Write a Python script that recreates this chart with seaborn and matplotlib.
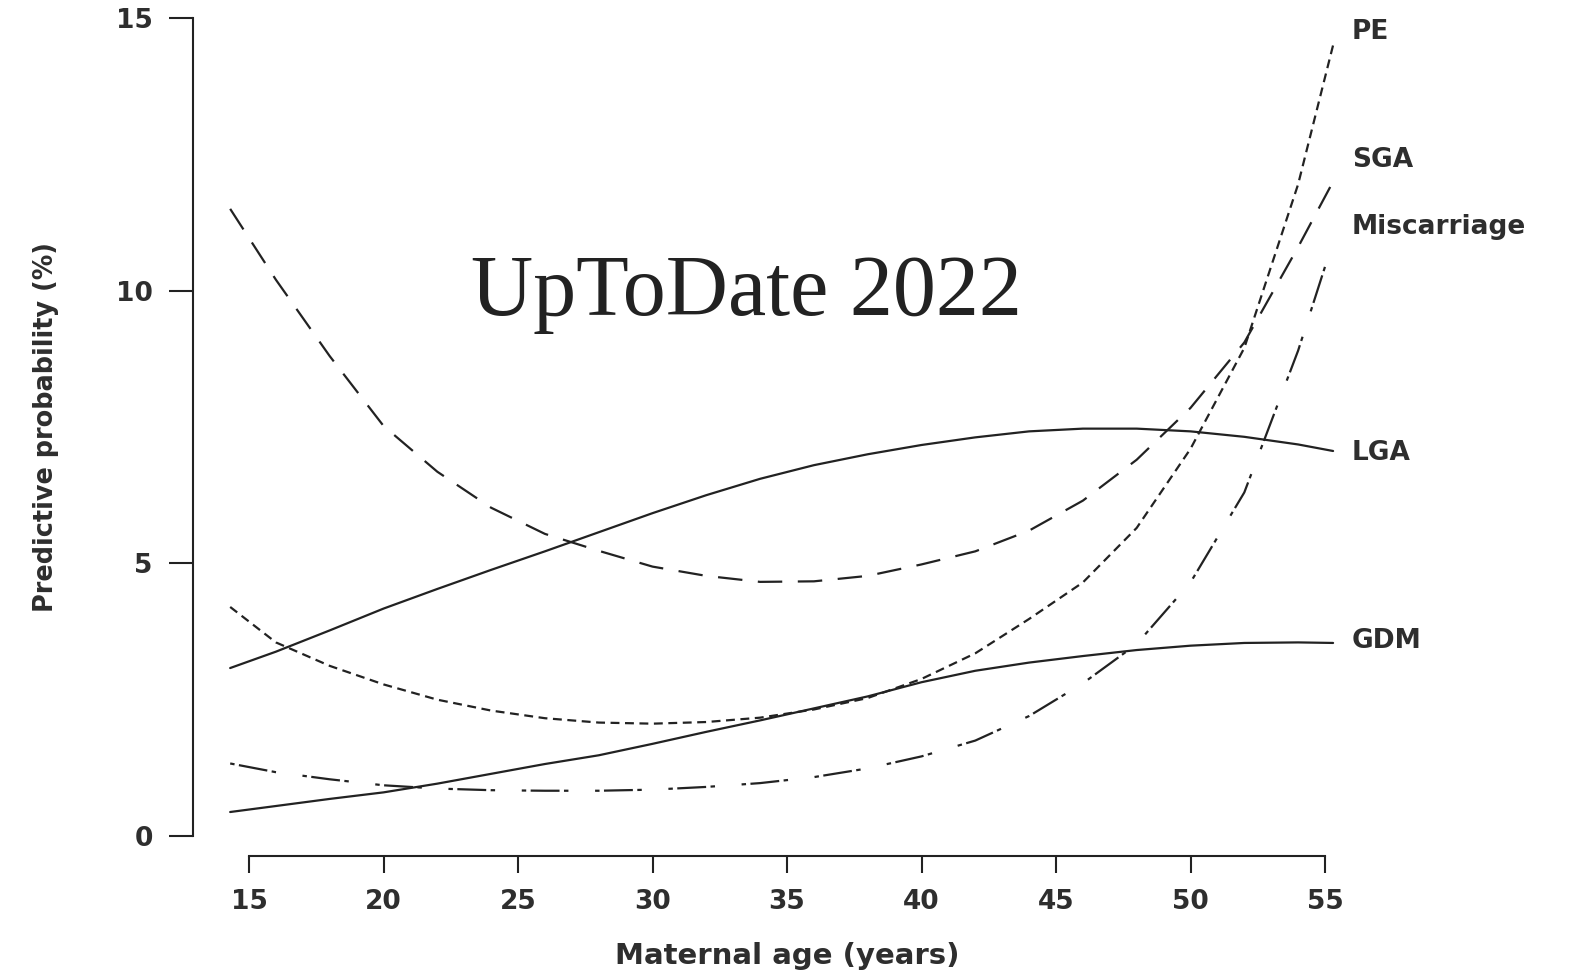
import pandas as pd
import matplotlib.pyplot as plt
import seaborn as sns

# Predicted probability (%) by maternal age
ages = [14.3, 16, 18, 20, 22, 24, 26, 28, 30, 32, 34, 36, 38, 40, 42, 44, 46, 48, 50, 52, 54, 55.3]

pe = [4.20, 3.55, 3.12, 2.78, 2.50, 2.30, 2.16, 2.08, 2.06, 2.09, 2.17, 2.32, 2.53, 2.88,
      3.35, 3.98, 4.65, 5.65, 7.10, 8.95, 11.95, 14.5]
sga = [11.50, 10.20, 8.80, 7.52, 6.68, 6.02, 5.54, 5.23, 4.94, 4.77, 4.66, 4.67, 4.77, 4.98,
       5.22, 5.60, 6.15, 6.90, 7.85, 9.05, 10.80, 12.0]
miscarriage = [1.33, 1.17, 1.04, 0.93, 0.87, 0.84, 0.83, 0.83, 0.85, 0.90, 0.97, 1.08, 1.24, 1.46,
               1.75, 2.20, 2.80, 3.52, 4.65, 6.30, 8.90, 10.90]
lga = [3.08, 3.38, 3.77, 4.17, 4.53, 4.88, 5.22, 5.57, 5.92, 6.25, 6.55, 6.80, 7.00, 7.17,
       7.31, 7.42, 7.47, 7.47, 7.42, 7.32, 7.18, 7.06]
gdm = [0.44, 0.55, 0.68, 0.80, 0.96, 1.14, 1.32, 1.48, 1.69, 1.91, 2.12, 2.34, 2.56, 2.82,
       3.03, 3.18, 3.30, 3.41, 3.49, 3.54, 3.55, 3.54]

outcomes = ["PE", "SGA", "Miscarriage", "LGA", "GDM"]
series = [pe, sga, miscarriage, lga, gdm]

# where the curve names sit on the right
label_y = [14.75, 12.39, 11.16, 7.03, 3.58]

df = pd.DataFrame({
    "age": ages * len(outcomes),
    "prob": [v for s in series for v in s],
    "outcome": [o for o in outcomes for _ in ages],
})

sns.set_theme(style="ticks")
plt.rcParams["font.family"] = ["DejaVu Sans"]
ink = "#222222"
txt = "#2e2e2e"

fig = plt.figure(figsize=(15.72, 9.73), dpi=100)
ax = fig.add_axes([0.14129, 0.14080, 0.71870, 0.84070])

dashes = {
    "PE": (4, 2.5),
    "SGA": (11, 7),
    "Miscarriage": (2, 2, 13, 2, 2, 12),
    "LGA": "",
    "GDM": "",
}
sns.lineplot(data=df, x="age", y="prob", style="outcome", dashes=dashes,
             color=ink, linewidth=1.6, legend=False, ax=ax, sort=False)

for name, y in zip(outcomes, label_y):
    ax.text(56.0, y, name, fontsize=19, fontweight="bold", color=txt,
            va="center", ha="left", clip_on=False)

ax.set_xlim(14, 56)
ax.set_ylim(0, 15)
ax.set_xticks([15, 20, 25, 30, 35, 40, 45, 50, 55])
ax.set_yticks([0, 5, 10, 15])

sns.despine(ax=ax)
ax.spines["left"].set_position(("outward", 21))
ax.spines["bottom"].set_position(("outward", 14.5))
ax.spines["left"].set_bounds(0, 15)
ax.spines["bottom"].set_bounds(15, 55)
for s in ["left", "bottom"]:
    ax.spines[s].set_linewidth(1.5)
    ax.spines[s].set_color(ink)

ax.tick_params(axis="y", length=17, width=1.5, pad=12, color=ink, labelcolor=txt, labelsize=19)
ax.tick_params(axis="x", length=12, width=1.5, pad=12, color=ink, labelcolor=txt, labelsize=19)
for lab in ax.get_xticklabels() + ax.get_yticklabels():
    lab.set_fontweight("bold")

ax.set_xlabel("Maternal age (years)", fontsize=21, fontweight="bold", color=txt, labelpad=19)
ax.set_ylabel("Predictive probability (%)", fontsize=18.4, fontweight="bold", color=txt, labelpad=41)

fig.text(746.5 / 1572, 1 - 315 / 973, "UpToDate 2022", fontsize=62, color="#222222",
         family="Liberation Serif", ha="center", va="baseline")

fig.savefig("out.png", dpi=100, facecolor="white")
